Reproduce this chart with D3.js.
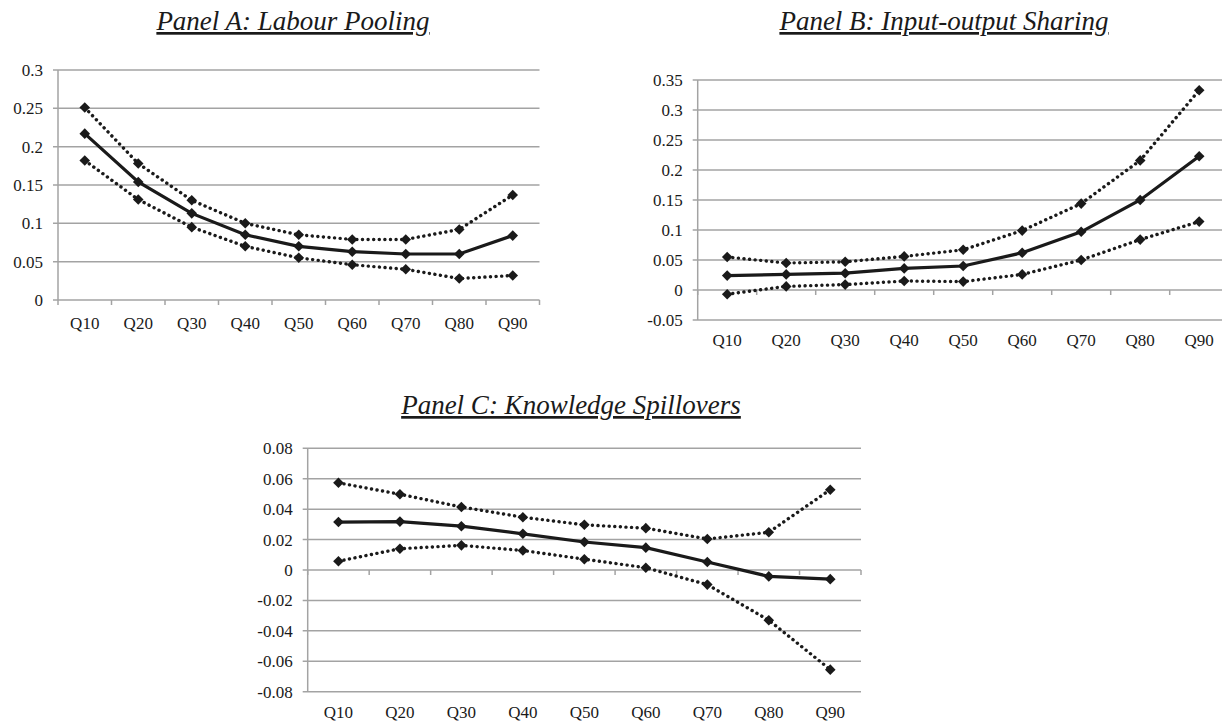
<!DOCTYPE html>
<html>
<head>
<meta charset="utf-8">
<script src="https://cdn.jsdelivr.net/npm/d3@7"></script>
<style>
  body { margin: 0; background: #fff; }
</style>
</head>
<body>
<div id="chart"></div>
<script>
// Quantile categories shared by all three panels
var quantiles = ["Q10", "Q20", "Q30", "Q40", "Q50", "Q60", "Q70", "Q80", "Q90"];

// Panel A: Labour Pooling
var poolingEst   = [0.217, 0.154, 0.113, 0.085, 0.070, 0.063, 0.060, 0.060, 0.084];
var poolingUpper = [0.251, 0.178, 0.130, 0.100, 0.085, 0.079, 0.079, 0.092, 0.137];
var poolingLower = [0.182, 0.131, 0.095, 0.070, 0.055, 0.046, 0.040, 0.028, 0.032];
var poolingTicks = [0, 0.05, 0.1, 0.15, 0.2, 0.25, 0.3];

// Panel B: Input-output Sharing
var sharingEst   = [0.024, 0.026, 0.028, 0.036, 0.040, 0.062, 0.097, 0.150, 0.223];
var sharingUpper = [0.055, 0.045, 0.047, 0.056, 0.067, 0.099, 0.144, 0.216, 0.333];
var sharingLower = [-0.007, 0.006, 0.009, 0.015, 0.014, 0.026, 0.050, 0.084, 0.114];
var sharingTicks = [-0.05, 0, 0.05, 0.1, 0.15, 0.2, 0.25, 0.3, 0.35];

// Panel C: Knowledge Spillovers
var spillEst   = [0.0315, 0.0318, 0.0288, 0.0238, 0.0184, 0.0147, 0.0053, -0.0042, -0.006];
var spillUpper = [0.0573, 0.0498, 0.0414, 0.0347, 0.0297, 0.0275, 0.0204, 0.0248, 0.0528];
var spillLower = [0.0058, 0.0140, 0.0162, 0.0128, 0.0071, 0.0015, -0.0096, -0.0330, -0.0655];
var spillTicks = [-0.08, -0.06, -0.04, -0.02, 0, 0.02, 0.04, 0.06, 0.08];

var svgWidth = 1222;
var svgHeight = 722;

var fontFamily = "'Liberation Serif'";
var gridColor = "#a3a3a3";
var lineColor = "#1a1a1a";
var textColor = "#1a1a1a";

var svg = d3.select("#chart")
  .append("svg")
  .attr("width", svgWidth)
  .attr("height", svgHeight);

// tick text like "0.25", "-0.05", "0"
function fmt(v) {
  return String(+v.toFixed(2));
}

function drawPanel(p) {
  var g = svg.append("g");

  var x = d3.scaleBand()
    .domain(quantiles)
    .range([p.left, p.right])
    .paddingInner(0)
    .paddingOuter(0);

  var y = d3.scaleLinear()
    .domain(d3.extent(p.ticks))
    .range([p.bottom, p.top]);

  var cx = function(q) { return x(q) + x.bandwidth() / 2; };

  // horizontal gridlines
  g.selectAll(".grid")
    .data(p.ticks)
    .enter()
    .append("line")
    .attr("x1", p.left - 5)
    .attr("x2", p.right)
    .attr("y1", d => y(d))
    .attr("y2", d => y(d))
    .attr("stroke", gridColor)
    .attr("stroke-width", 1.5);

  // y axis line
  g.append("line")
    .attr("x1", p.left).attr("x2", p.left)
    .attr("y1", y(p.ticks[p.ticks.length - 1]))
    .attr("y2", y(p.ticks[0]))
    .attr("stroke", gridColor)
    .attr("stroke-width", 1.5);

  // y tick labels
  g.selectAll(".ylab")
    .data(p.ticks)
    .enter()
    .append("text")
    .attr("x", p.left - 15)
    .attr("y", d => y(d))
    .attr("dy", "0.35em")
    .attr("text-anchor", "end")
    .attr("font-family", fontFamily)
    .attr("font-size", 17)
    .attr("fill", textColor)
    .text(fmt);

  // x axis sits on the zero line, ticks at category edges
  var edges = quantiles.map(q => x(q)).concat([p.right]);
  g.selectAll(".xtick")
    .data(edges)
    .enter()
    .append("line")
    .attr("x1", d => d).attr("x2", d => d)
    .attr("y1", y(0))
    .attr("y2", y(0) + 5)
    .attr("stroke", gridColor)
    .attr("stroke-width", 1.5);

  g.selectAll(".xlab")
    .data(quantiles)
    .enter()
    .append("text")
    .attr("x", d => cx(d))
    .attr("y", p.labelY)
    .attr("text-anchor", "middle")
    .attr("font-family", fontFamily)
    .attr("font-size", 17)
    .attr("fill", textColor)
    .text(d => d);

  // series: bounds dotted, estimate solid
  var series = [
    { values: p.upper, dash: "0.1 5.5" },
    { values: p.lower, dash: "0.1 5.5" },
    { values: p.est, dash: null }
  ];

  var line = d3.line()
    .x((d, i) => cx(quantiles[i]))
    .y(d => y(d));

  var diamond = d3.symbol().type(d3.symbolSquare).size(56);

  series.forEach(function(s) {
    g.append("path")
      .datum(s.values)
      .attr("d", line)
      .attr("fill", "none")
      .attr("stroke", lineColor)
      .attr("stroke-width", s.dash ? 3.4 : 3.2)
      .attr("stroke-linecap", s.dash ? "round" : "butt")
      .attr("stroke-dasharray", s.dash);

    g.selectAll(null)
      .data(s.values)
      .enter()
      .append("path")
      .attr("d", diamond)
      .attr("transform", (d, i) => `translate(${cx(quantiles[i])},${y(d)}) rotate(45)`)
      .attr("fill", lineColor);
  });

  // panel title, italic and underlined
  g.append("text")
    .attr("x", p.titleX)
    .attr("y", p.titleY)
    .attr("text-anchor", "middle")
    .attr("font-family", fontFamily)
    .attr("font-style", "italic")
    .attr("font-size", 27)
    .attr("text-decoration", "underline")
    .attr("fill", textColor)
    .text(p.title);
}

drawPanel({
  title: "Panel A: Labour Pooling",
  est: poolingEst, upper: poolingUpper, lower: poolingLower, ticks: poolingTicks,
  left: 58, right: 539.5, top: 70, bottom: 300,
  labelY: 329, titleX: 293, titleY: 30
});

drawPanel({
  title: "Panel B: Input-output Sharing",
  est: sharingEst, upper: sharingUpper, lower: sharingLower, ticks: sharingTicks,
  left: 697.7, right: 1228.7, top: 80, bottom: 320,
  labelY: 346, titleX: 944, titleY: 30
});

drawPanel({
  title: "Panel C: Knowledge Spillovers",
  est: spillEst, upper: spillUpper, lower: spillLower, ticks: spillTicks,
  left: 307.7, right: 861, top: 448.3, bottom: 691.7,
  labelY: 718, titleX: 571, titleY: 414
});
</script>
</body>
</html>
